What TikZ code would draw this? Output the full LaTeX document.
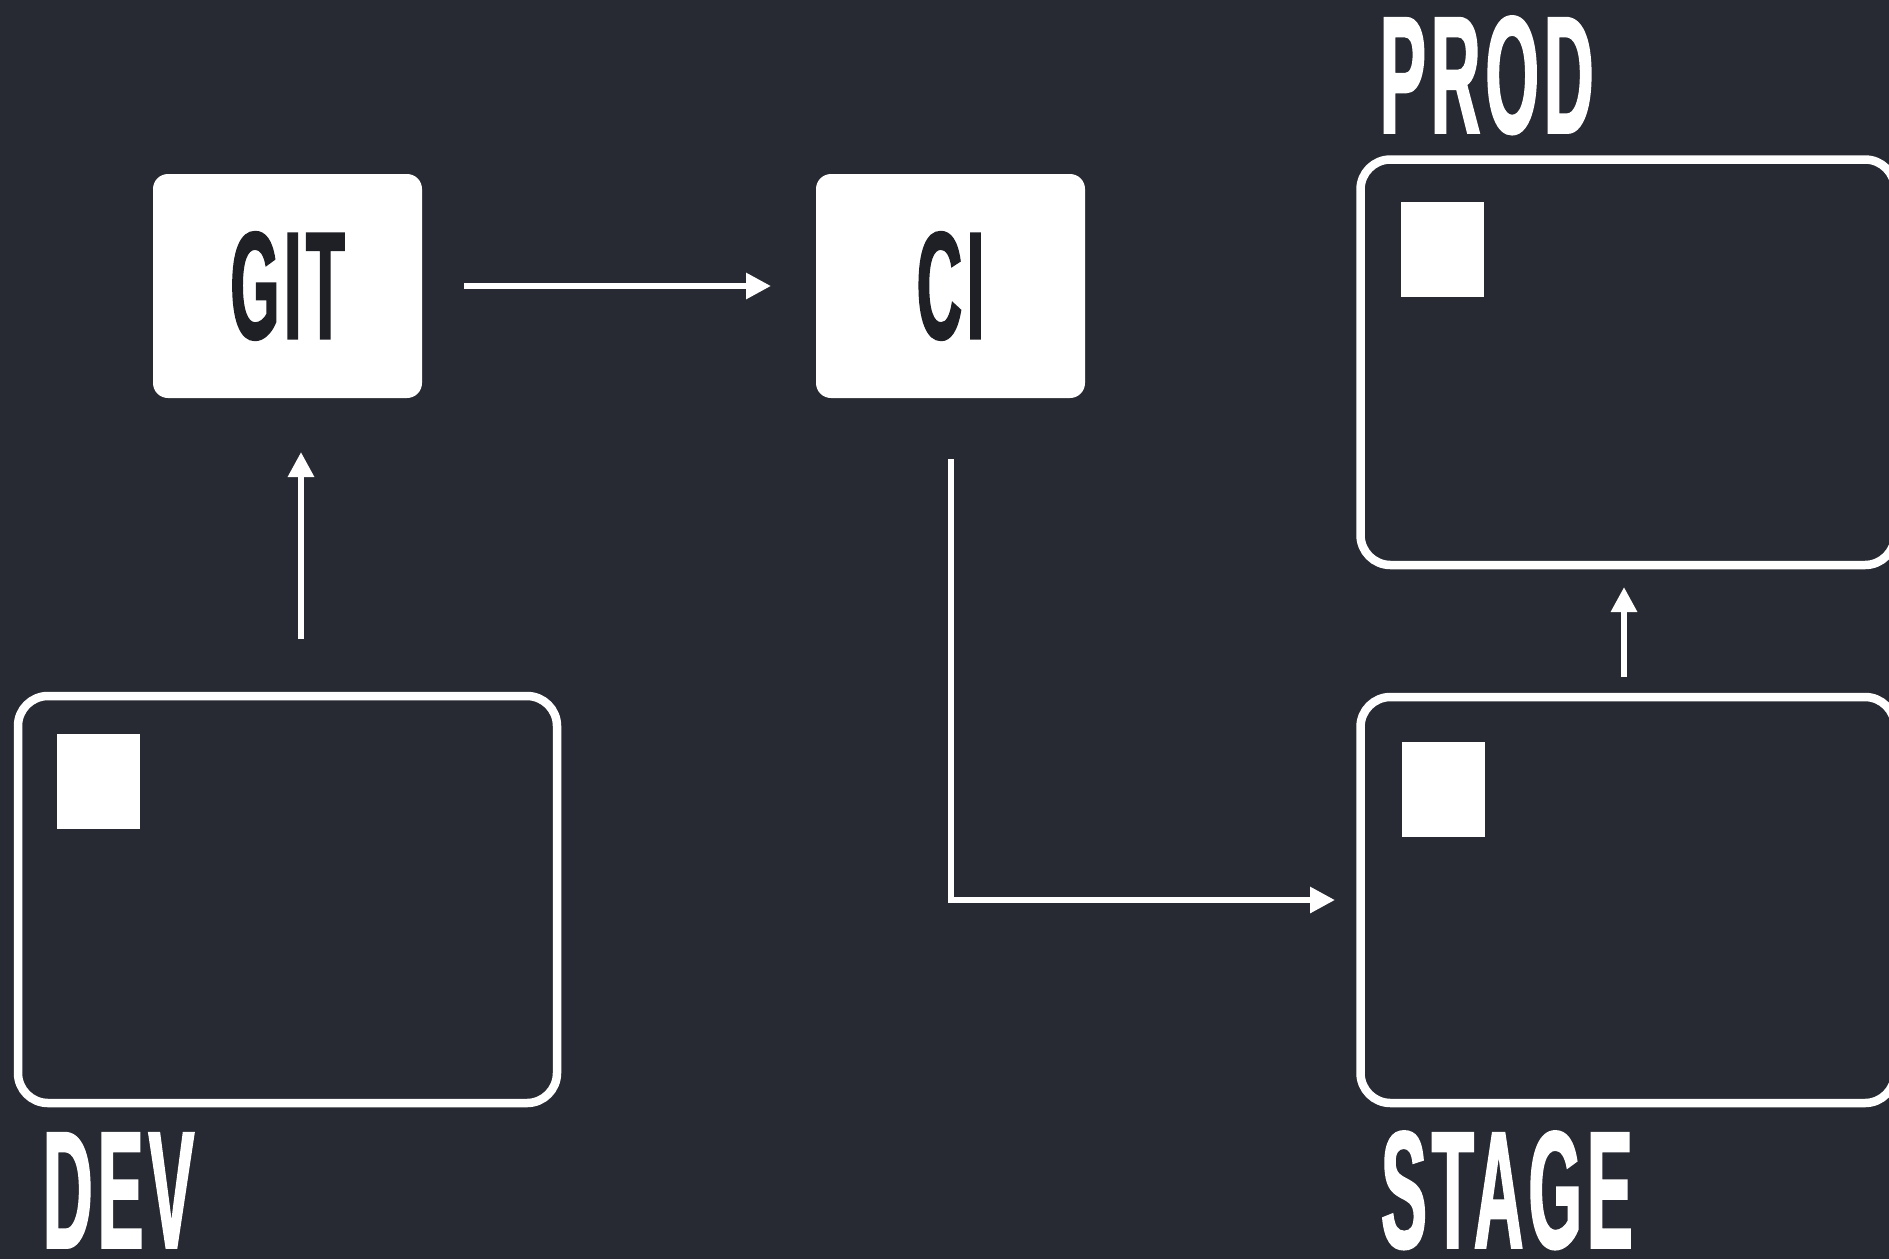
\documentclass[tikz,border=0pt]{standalone}
\usepackage{fontspec}
\setmainfont{Liberation Sans}
\newfontfamily\condfont[FakeStretch=0.41,FakeBold=1.1,LetterSpace=3]{Liberation Sans}
\usetikzlibrary{arrows.meta}
\definecolor{bg}{HTML}{272A33}
\definecolor{ink}{HTML}{1F2026}
\begin{document}
\begin{tikzpicture}[x=0.5pt,y=-0.5pt,
  cardbox/.style={fill=white, rounded corners=7.5pt, minimum width=134.5pt, minimum height=112pt,
    inner sep=0pt, outer sep=0pt, text=ink, font=\condfont\bfseries\fontsize{76.8}{80}\selectfont},
  envbox/.style={draw=white, line width=4.25pt, rounded corners=15pt, inner sep=0pt, outer sep=0pt},
  chip/.style={fill=white, minimum width=41.5pt, minimum height=47.5pt, inner sep=0pt, outer sep=0pt, anchor=north west},
  envlabel/.style={text=white, anchor=base west, inner sep=0pt, outer sep=0pt,
    font=\condfont\bfseries\fontsize{83.8}{86}\selectfont},
  arr/.style={draw=white, line width=3pt, -{Triangle[length=12.5pt,width=12.5pt]}}]
\fill[bg] (0,0) rectangle (1889,1259);
\useasboundingbox (0,0) rectangle (1889,1259);
\clip (0,0) rectangle (1889,1259);
% tool boxes
\node[cardbox] (git) at (287.5,286) {GIT};
\node[cardbox] (ci) at (950.5,286) {CI};
% environment boxes
\node[envbox, minimum width=269.5pt, minimum height=203.5pt] (dev) at (287.5,899.5) {};
\node[envbox, minimum width=267.25pt, minimum height=202.75pt] (prod) at (1627.75,362.25) {};
\node[envbox, minimum width=267.25pt, minimum height=203pt] (stage) at (1627.75,900) {};
% chips
\node[chip] (devchip) at (57,734) {};
\node[chip] (prodchip) at (1401,202) {};
\node[chip] (stagechip) at (1402,742) {};
% labels
\node[envlabel] (devlbl) at (43,1248) {DEV};
\node[envlabel] (prodlbl) at (1380,133) {PROD};
\node[envlabel] (stagelbl) at (1381,1248) {STAGE};
% connectors
\draw[arr, shorten <=21pt, shorten >=22.5pt] (git.east) -- (ci.west);
\draw[arr, shorten <=28.5pt, shorten >=27pt] ([xshift=6.75pt]dev.north) -- ([xshift=6.75pt]git.south);
\draw[arr, shorten <=30.5pt, shorten >=12.75pt] (ci.south) |- (stage.west);
\draw[arr, shorten <=10pt, shorten >=11pt] ([xshift=-1.875pt]stage.north) -- ([xshift=-1.875pt]prod.south);
\end{tikzpicture}
\end{document}
